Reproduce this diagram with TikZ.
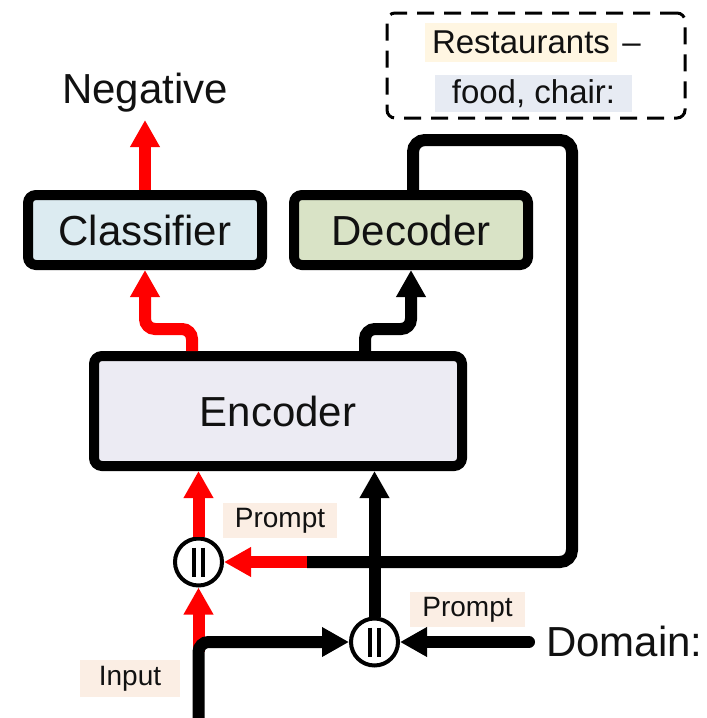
\documentclass[tikz,border=0pt]{standalone}
\usepackage{fontspec}
\setmainfont{Liberation Sans}
\usetikzlibrary{arrows.meta}
\definecolor{clsfill}{HTML}{DCEBF1}
\definecolor{decfill}{HTML}{D9E3C6}
\definecolor{encfill}{HTML}{ECEBF3}
\definecolor{redarr}{HTML}{FF0000}
\definecolor{peach}{HTML}{FBEEE4}
\definecolor{creamy}{HTML}{FFF6E2}
\definecolor{bluegray}{HTML}{E7EBF3}
\definecolor{ink}{HTML}{111111}
\begin{document}
\begin{tikzpicture}[x=1pt,y=-1pt,
  box/.style={draw=black, line width=10pt, rounded corners=8pt, inner sep=0pt,
    text=ink, font=\fontsize{42}{48}\selectfont},
  conn/.style={line width=12pt, rounded corners=10pt, -{Triangle[width=28pt,length=27pt]}},
  redconn/.style={conn, draw=redarr, -{Triangle[width=28pt,length=27pt,fill=redarr]}},
  concat/.style={circle, draw=black, line width=4pt, minimum size=47pt, inner sep=0pt, fill=white},
  bar/.style={line width=4.5pt},
  tag/.style={fill=peach, inner sep=0pt, text=ink, font=\fontsize{28}{32}\selectfont, minimum height=35pt},
  big/.style={text=ink, font=\fontsize{42}{48}\selectfont, inner sep=0pt},
  mid/.style={text=ink, font=\fontsize{33}{38}\selectfont, inner sep=0pt}
]
\useasboundingbox (0,0) rectangle (707,718);
\fill[white] (0,0) rectangle (707,718);

% boxes
\node[box, fill=clsfill, minimum width=234pt, minimum height=70pt] (cls) at (145,230) {Classifier};
\node[box, fill=decfill, minimum width=234pt, minimum height=70pt] (dec) at (411,230) {Decoder};
\node[box, fill=encfill, minimum width=368pt, minimum height=110pt] (enc) at (278,411) {Encoder};

% texts
\node[big, anchor=base] (neg) at (145,103) {Negative};
\coordinate (negtip) at (145,120);
\node[big, anchor=west] (dom) at (546,641) {Domain:};

% dashed box
\node[draw=black, line width=3pt, dash pattern=on 17pt off 10pt, rounded corners=8pt,
      minimum width=298pt, minimum height=105pt, inner sep=0pt] (dbox) at (536,65.5) {};
\node[mid, fill=creamy, minimum width=192pt, minimum height=39pt] (rest) at (521,42.5) {Restaurants};
\node[mid, anchor=base west] (dash) at ([xshift=5pt]rest.base east) {–};
\node[mid, fill=bluegray, minimum width=197pt, minimum height=37pt] (food) at (533.5,93.5) {food, chair:};

% tags
\node[tag, minimum width=114pt] (p1) at (280,520.5) {Prompt};
\node[tag, minimum width=115pt] (p2) at (467.5,609.5) {Prompt};
\node[tag, minimum width=100pt, minimum height=37pt] (inlab) at (130,678.5) {Input};

% concat nodes
\node[concat] (c1) at (198.5,562) {};
\node[concat] (c2) at (374.5,642) {};
\foreach \c in {c1,c2}{
  \draw[bar] ([xshift=-4.5pt]\c.center) ++(0,-14.5) -- ++(0,29);
  \draw[bar] ([xshift=4.5pt]\c.center) ++(0,-14.5) -- ++(0,29);
}

% connectors
\draw[redconn] (cls.north) -- (negtip);
\draw[redconn] ([xshift=-86pt]enc.north) -- ++(0,-22) -| (cls.south);
\draw[conn] ([xshift=87pt]enc.north) -- ++(0,-22) -| (dec.south);

\coordinate (rj) at (307,562);
\draw[line width=12pt, rounded corners=12pt] ([xshift=2pt]dec.north) |- (572,140) |- (rj);
\draw[redconn] (rj) -- (c1.east);
\draw[redconn] (c1.north) -- (c1 |- enc.south);

\coordinate (rs) at (198.5,652);
\draw[redconn] (rs) -- (c1.south);
\coordinate (inp) at (198.5,730);
\draw[conn] (inp) |- (c2.west);
\draw[conn] (c2.north) -- (c2 |- enc.south);
\draw[conn, line cap=round] ([xshift=-17pt]dom.west |- c2.east) -- (c2.east);
\end{tikzpicture}
\end{document}
